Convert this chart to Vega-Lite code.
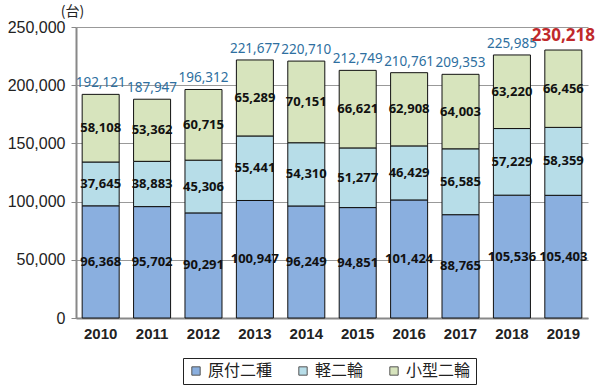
{
  "$schema": "https://vega.github.io/schema/vega-lite/v6.json",
  "width": 512,
  "height": 291,
  "autosize": {"type": "none"},
  "padding": {"left": 76, "top": 27, "right": 12, "bottom": 71},
  "background": "white",
  "config": {
    "view": {"stroke": null},
    "font": "Liberation Sans",
    "axisY": {
      "title": "(台)",
      "titleAngle": 0,
      "titleFont": "Noto Sans CJK JP",
      "titleFontSize": 14,
      "titleFontWeight": "normal",
      "titleColor": "#222222",
      "titleX": -4,
      "titleY": -16,
      "titleAlign": "center",
      "titleBaseline": "middle",
      "labelFontSize": 16,
      "labelColor": "#222222",
      "labelPadding": 6,
      "labelExpr": "format(datum.value, ',')",
      "gridColor": "#999999",
      "gridWidth": 1,
      "domainColor": "#888888",
      "domainWidth": 2,
      "tickColor": "#888888",
      "tickSize": 5
    }
  },
  "datasets": {
    "segs": [
      {"year": "2010", "type": "原付二種", "order": 1, "value": 96368},
      {"year": "2010", "type": "軽二輪", "order": 2, "value": 37645},
      {"year": "2010", "type": "小型二輪", "order": 3, "value": 58108},
      {"year": "2011", "type": "原付二種", "order": 1, "value": 95702},
      {"year": "2011", "type": "軽二輪", "order": 2, "value": 38883},
      {"year": "2011", "type": "小型二輪", "order": 3, "value": 53362},
      {"year": "2012", "type": "原付二種", "order": 1, "value": 90291},
      {"year": "2012", "type": "軽二輪", "order": 2, "value": 45306},
      {"year": "2012", "type": "小型二輪", "order": 3, "value": 60715},
      {"year": "2013", "type": "原付二種", "order": 1, "value": 100947},
      {"year": "2013", "type": "軽二輪", "order": 2, "value": 55441},
      {"year": "2013", "type": "小型二輪", "order": 3, "value": 65289},
      {"year": "2014", "type": "原付二種", "order": 1, "value": 96249},
      {"year": "2014", "type": "軽二輪", "order": 2, "value": 54310},
      {"year": "2014", "type": "小型二輪", "order": 3, "value": 70151},
      {"year": "2015", "type": "原付二種", "order": 1, "value": 94851},
      {"year": "2015", "type": "軽二輪", "order": 2, "value": 51277},
      {"year": "2015", "type": "小型二輪", "order": 3, "value": 66621},
      {"year": "2016", "type": "原付二種", "order": 1, "value": 101424},
      {"year": "2016", "type": "軽二輪", "order": 2, "value": 46429},
      {"year": "2016", "type": "小型二輪", "order": 3, "value": 62908},
      {"year": "2017", "type": "原付二種", "order": 1, "value": 88765},
      {"year": "2017", "type": "軽二輪", "order": 2, "value": 56585},
      {"year": "2017", "type": "小型二輪", "order": 3, "value": 64003},
      {"year": "2018", "type": "原付二種", "order": 1, "value": 105536},
      {"year": "2018", "type": "軽二輪", "order": 2, "value": 57229},
      {"year": "2018", "type": "小型二輪", "order": 3, "value": 63220},
      {"year": "2019", "type": "原付二種", "order": 1, "value": 105403},
      {"year": "2019", "type": "軽二輪", "order": 2, "value": 58359},
      {"year": "2019", "type": "小型二輪", "order": 3, "value": 66456}
    ],
    "totals": [
      {"year": "2010", "total": 192121},
      {"year": "2011", "total": 187947},
      {"year": "2012", "total": 196312},
      {"year": "2013", "total": 221677},
      {"year": "2014", "total": 220710},
      {"year": "2015", "total": 212749},
      {"year": "2016", "total": 210761},
      {"year": "2017", "total": 209353},
      {"year": "2018", "total": 225985},
      {"year": "2019", "total": 230218}
    ]
  },
  "encoding": {
    "x": {
      "field": "year",
      "type": "nominal",
      "sort": null,
      "scale": {"paddingInner": 0.28, "paddingOuter": 0.12},
      "axis": {
        "title": null,
        "labelAngle": 0,
        "labelFontSize": 15,
        "labelFontWeight": "bold",
        "labelColor": "#222222",
        "labelPadding": 8,
        "ticks": false,
        "domainColor": "#888888",
        "domainWidth": 2
      }
    }
  },
  "layer": [
    {
      "data": {"name": "segs"},
      "transform": [
        {"stack": "value", "groupby": ["year"], "sort": [{"field": "order"}], "as": ["v0", "v1"]}
      ],
      "mark": {"type": "bar", "stroke": "#111111", "strokeWidth": 1},
      "encoding": {
        "y": {
          "field": "v0",
          "type": "quantitative",
          "scale": {"domain": [0, 250000], "nice": false},
          "axis": {"title": "(台)", "values": [0, 50000, 100000, 150000, 200000, 250000]}
        },
        "y2": {"field": "v1"},
        "color": {
          "field": "type",
          "type": "nominal",
          "scale": {
            "domain": ["原付二種", "軽二輪", "小型二輪"],
            "range": ["#8AAFDF", "#B7DDE8", "#D7E4BD"]
          },
          "legend": {
            "title": null,
            "orient": "none",
            "direction": "horizontal",
            "legendX": 107,
            "legendY": 331,
            "symbolType": "square",
            "symbolSize": 70,
            "symbolStrokeColor": "#555555",
            "symbolStrokeWidth": 1,
            "labelFont": "Noto Sans CJK JP",
            "labelFontSize": 16,
            "labelColor": "#222222",
            "columnPadding": 22,
            "strokeColor": "#222222",
            "padding": 5,
            "fillColor": "white"
          }
        }
      }
    },
    {
      "data": {"name": "segs"},
      "transform": [
        {"stack": "value", "groupby": ["year"], "sort": [{"field": "order"}], "as": ["v0", "v1"]},
        {"calculate": "(datum.v0 + datum.v1) / 2", "as": "mid"}
      ],
      "mark": {"type": "text", "fontSize": 13, "fontWeight": "bold", "color": "#111111", "font": "Noto Sans"},
      "encoding": {
        "y": {
          "field": "mid",
          "type": "quantitative",
          "scale": {"domain": [0, 250000], "nice": false},
          "axis": {"title": "(台)", "values": [0, 50000, 100000, 150000, 200000, 250000]}
        },
        "text": {"field": "value", "type": "quantitative", "format": ","}
      }
    },
    {
      "data": {"name": "totals"},
      "transform": [{"filter": "datum.year != '2019'"}],
      "mark": {"type": "text", "fontSize": 13.5, "baseline": "bottom", "dy": -4, "color": "#2E6FA0", "font": "Noto Sans"},
      "encoding": {
        "y": {
          "field": "total",
          "type": "quantitative",
          "scale": {"domain": [0, 250000], "nice": false},
          "axis": {"title": "(台)", "values": [0, 50000, 100000, 150000, 200000, 250000]}
        },
        "text": {"field": "total", "type": "quantitative", "format": ","}
      }
    },
    {
      "data": {"name": "totals"},
      "transform": [{"filter": "datum.year == '2019'"}],
      "mark": {"type": "text", "fontSize": 17, "fontWeight": "bold", "baseline": "bottom", "dy": -5, "color": "#C0292B", "font": "Noto Sans"},
      "encoding": {
        "y": {
          "field": "total",
          "type": "quantitative",
          "scale": {"domain": [0, 250000], "nice": false},
          "axis": {"title": "(台)", "values": [0, 50000, 100000, 150000, 200000, 250000]}
        },
        "text": {"field": "total", "type": "quantitative", "format": ","}
      }
    }
  ]
}
